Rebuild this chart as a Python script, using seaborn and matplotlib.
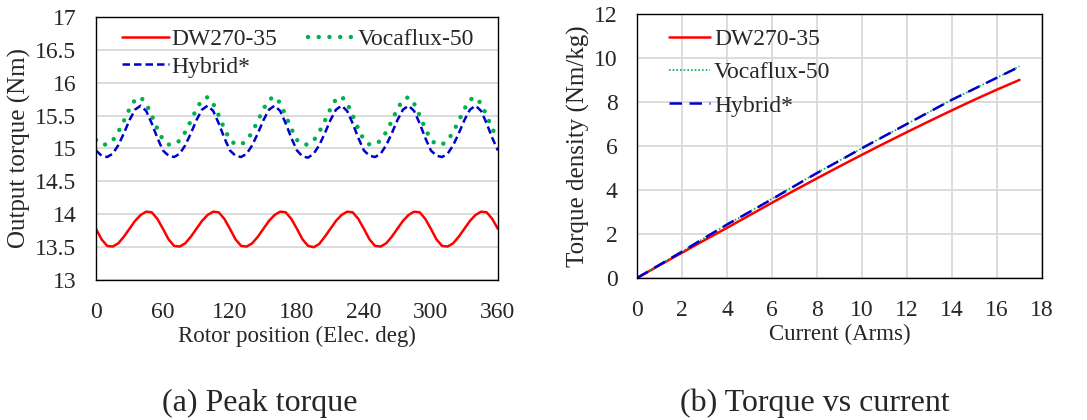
import numpy as np
import pandas as pd
import matplotlib
matplotlib.use('Agg')
import matplotlib.pyplot as plt
import seaborn as sns

# (a) peak torque vs rotor position, read every 5 elec. deg
rotor_pos = list(range(0, 365, 5))
dw_torque = [13.78, 13.62, 13.52, 13.51, 13.56, 13.66, 13.78, 13.90, 13.99, 14.04, 14.03, 13.93,
             13.78, 13.62, 13.52, 13.51, 13.56, 13.66, 13.78, 13.90, 13.99, 14.04, 14.03, 13.93,
             13.78, 13.62, 13.52, 13.51, 13.56, 13.66, 13.78, 13.90, 13.99, 14.04, 14.03, 13.93,
             13.78, 13.62, 13.52, 13.50, 13.55, 13.66, 13.78, 13.90, 13.99, 14.04, 14.03, 13.93,
             13.78, 13.62, 13.52, 13.51, 13.56, 13.66, 13.78, 13.90, 13.99, 14.04, 14.03, 13.93,
             13.78, 13.62, 13.52, 13.51, 13.56, 13.66, 13.78, 13.90, 13.99, 14.04, 14.03, 13.93,
             13.78]
voca_torque = [15.13, 15.06, 15.06, 15.12, 15.25, 15.42, 15.60, 15.74, 15.78, 15.68, 15.50, 15.30,
               15.13, 15.06, 15.06, 15.12, 15.25, 15.42, 15.60, 15.74, 15.78, 15.68, 15.50, 15.30,
               15.13, 15.06, 15.06, 15.12, 15.25, 15.42, 15.60, 15.74, 15.79, 15.69, 15.50, 15.30,
               15.13, 15.06, 15.06, 15.12, 15.25, 15.42, 15.60, 15.75, 15.79, 15.69, 15.50, 15.30,
               15.13, 15.06, 15.06, 15.12, 15.25, 15.42, 15.60, 15.74, 15.78, 15.68, 15.50, 15.30,
               15.13, 15.06, 15.06, 15.12, 15.25, 15.42, 15.60, 15.74, 15.78, 15.68, 15.50, 15.30,
               15.15]
hybrid_torque = [14.97, 14.89, 14.87, 14.92, 15.05, 15.23, 15.43, 15.59, 15.65, 15.57, 15.38, 15.16,
                 14.97, 14.89, 14.87, 14.92, 15.05, 15.23, 15.43, 15.59, 15.65, 15.57, 15.38, 15.16,
                 14.97, 14.89, 14.87, 14.92, 15.05, 15.23, 15.43, 15.59, 15.65, 15.57, 15.38, 15.16,
                 14.97, 14.88, 14.86, 14.92, 15.05, 15.23, 15.43, 15.59, 15.65, 15.57, 15.38, 15.16,
                 14.97, 14.89, 14.87, 14.92, 15.05, 15.23, 15.43, 15.59, 15.65, 15.57, 15.38, 15.16,
                 14.97, 14.89, 14.87, 14.92, 15.05, 15.23, 15.43, 15.59, 15.65, 15.57, 15.38, 15.16,
                 14.97]

# (b) torque density vs current
current = list(range(0, 18))
dw_density = [0, 0.58, 1.15, 1.72, 2.28, 2.85, 3.42, 3.98, 4.53, 5.07, 5.60, 6.12, 6.63, 7.13, 7.62, 8.10, 8.56, 9.00]
voca_density = [0, 0.60, 1.20, 1.82, 2.43, 3.01, 3.60, 4.19, 4.78, 5.34, 5.90, 6.45, 7.00, 7.55, 8.10, 8.60, 9.10, 9.62]
hybrid_density = [0, 0.60, 1.20, 1.82, 2.43, 3.00, 3.58, 4.18, 4.77, 5.33, 5.90, 6.45, 7.00, 7.55, 8.10, 8.60, 9.10, 9.60]

labels = ['DW270-35', 'Vocaflux-50', 'Hybrid*']
red = '#ff0000'
green = '#00b050'
blue = '#0000cc'
grid_c = '#d9d9d9'

df_a = pd.DataFrame({'pos': rotor_pos, 'dw': dw_torque, 'voca': voca_torque, 'hyb': hybrid_torque})
df_b = pd.DataFrame({'cur': current, 'dw': dw_density, 'voca': voca_density, 'hyb': hybrid_density})

sns.set_style('white')
plt.rcParams['font.family'] = ['Liberation Serif', 'DejaVu Serif']

fig = plt.figure(figsize=(10.87, 4.2), dpi=100)
ax1 = fig.add_axes([0.0883, 0.333, 0.3697, 0.627])
ax2 = fig.add_axes([0.586, 0.338, 0.3726, 0.629])

# --- panel (a)
sns.lineplot(data=df_a, x='pos', y='dw', ax=ax1, color=red, linewidth=1.8, label=labels[0])
sns.lineplot(data=df_a, x='pos', y='voca', ax=ax1, color=green, linewidth=3.2,
             linestyle=(0, (0.01, 2.4)), dash_capstyle='round', label=labels[1])
sns.lineplot(data=df_a, x='pos', y='hyb', ax=ax1, color=blue, linewidth=1.8,
             linestyle=(0, (3.0, 1.6)), label=labels[2])
ax1.set_xlim(0, 360)
ax1.set_ylim(13, 17)
ax1.set_xticks(range(0, 361, 60))
ax1.set_yticks(np.arange(13, 17.01, 0.5))
ax1.set_yticklabels(['13', '13.5', '14', '14.5', '15', '15.5', '16', '16.5', '17'])
ax1.yaxis.grid(True, color=grid_c, linewidth=1.3)
ax1.set_axisbelow(True)
ax1.set_xlabel('Rotor position (Elec. deg)', fontsize=16.5, labelpad=2)
ax1.set_ylabel('Output torque (Nm)', fontsize=18, labelpad=3)
h, l = ax1.get_legend_handles_labels()
ax1.legend([h[0], h[2], h[1]], [l[0], l[2], l[1]], ncol=2, loc='upper left', frameon=False,
           fontsize=17, handlelength=2.0, handletextpad=0.1, columnspacing=1.3,
           labelspacing=0.25, bbox_to_anchor=(0.035, 1.0), borderaxespad=0.1)

# --- panel (b)
sns.lineplot(data=df_b, x='cur', y='dw', ax=ax2, color=red, linewidth=1.8, label=labels[0])
sns.lineplot(data=df_b, x='cur', y='voca', ax=ax2, color=green, linewidth=1.2,
             linestyle=(0, (1, 1.2)), label=labels[1])
sns.lineplot(data=df_b, x='cur', y='hyb', ax=ax2, color=blue, linewidth=1.8,
             linestyle=(0, (5, 3)), label=labels[2])
ax2.set_xlim(0, 18)
ax2.set_ylim(0, 12)
ax2.set_xticks(range(0, 19, 2))
ax2.set_yticks(range(0, 13, 2))
ax2.grid(True, color=grid_c, linewidth=1.3)
ax2.set_axisbelow(True)
ax2.set_xlabel('Current (Arms)', fontsize=16.5, labelpad=2)
ax2.set_ylabel('Torque density (Nm/kg)', fontsize=18, labelpad=3)
ax2.legend(loc='upper left', frameon=False, fontsize=17, handlelength=1.75, handletextpad=0.15,
           labelspacing=0.5, bbox_to_anchor=(0.05, 0.99), borderaxespad=0.1)

for ax in (ax1, ax2):
    for s in ax.spines.values():
        s.set_visible(True)
        s.set_color('black')
        s.set_linewidth(1.0)
    ax.tick_params(axis='both', length=0, labelsize=17)
    ax.tick_params(axis='x', pad=16)
    ax.tick_params(axis='y', pad=14)

fig.text(0.239, 0.04, '(a) Peak torque', fontsize=23, ha='center', va='center')
fig.text(0.75, 0.04, '(b) Torque vs current', fontsize=23, ha='center', va='center')

fig.savefig('out.png', dpi=100, facecolor='white')
